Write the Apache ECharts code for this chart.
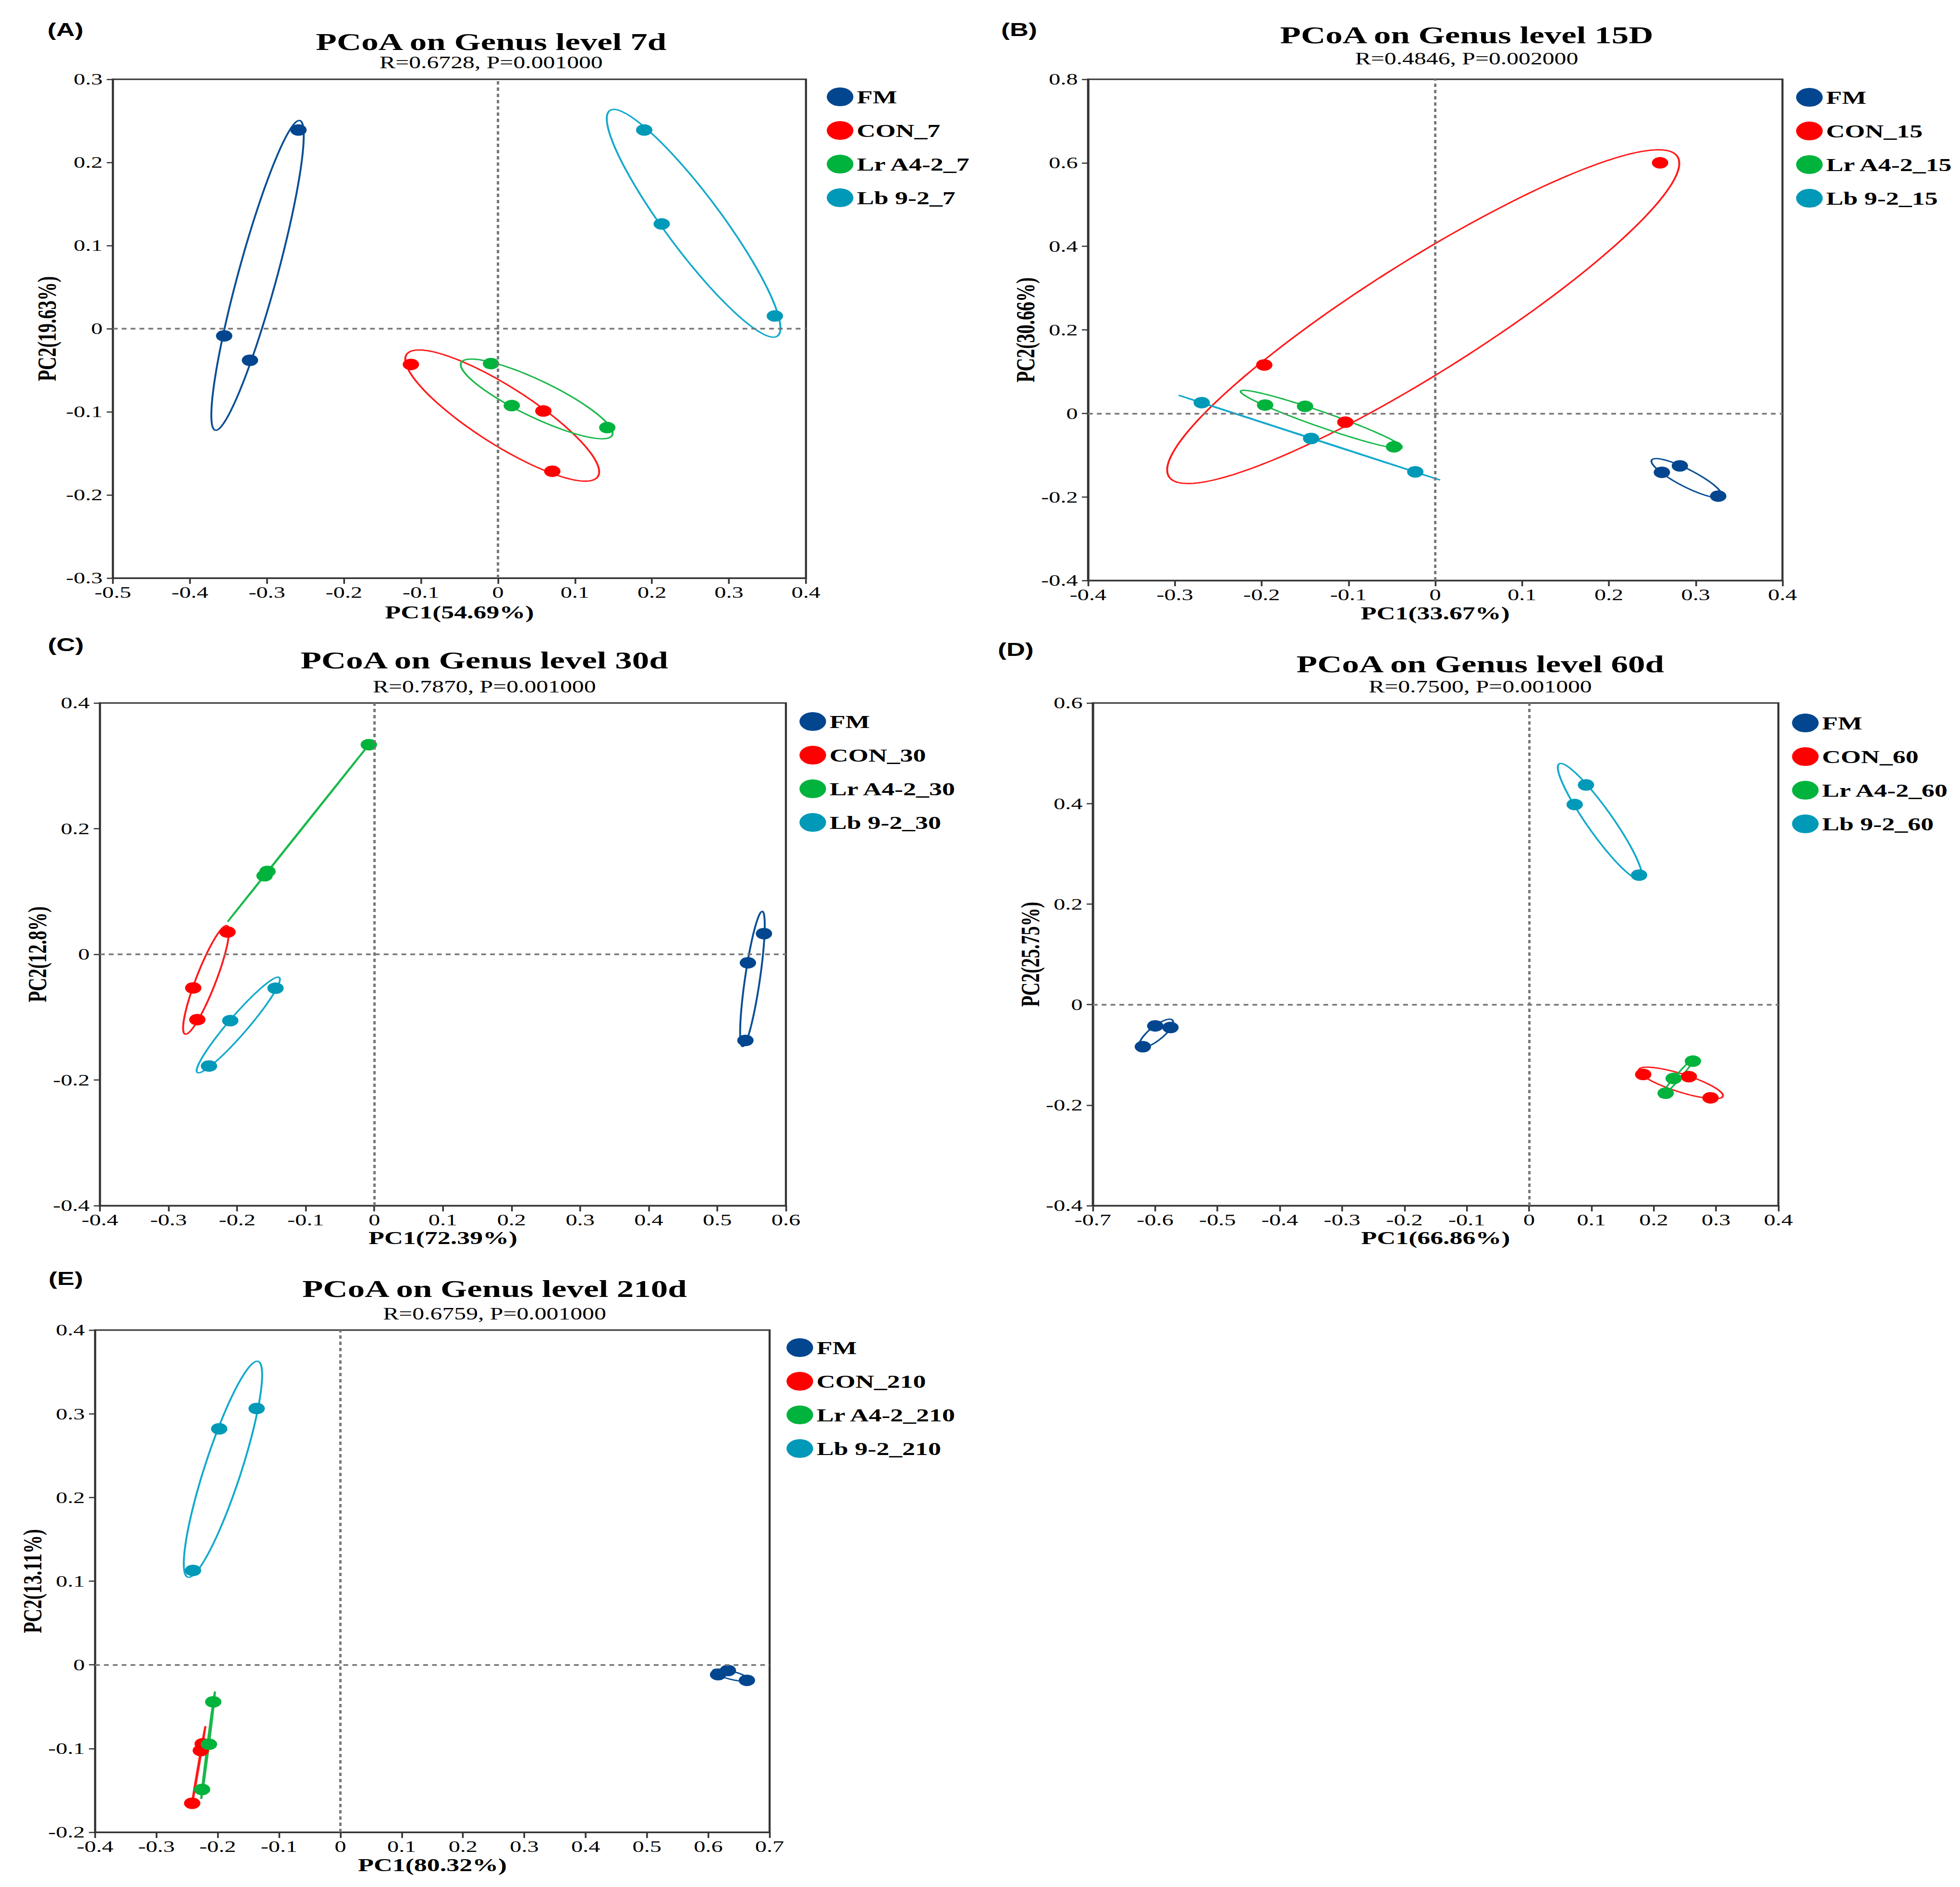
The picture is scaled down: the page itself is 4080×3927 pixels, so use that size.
<!DOCTYPE html>
<html>
<head>
<meta charset="utf-8">
<script src="https://cdn.jsdelivr.net/npm/echarts@6/dist/echarts.min.js"></script>
<style>
html,body{margin:0;padding:0;background:#fff;overflow:hidden;}
#wrap{position:absolute;left:0;top:0;transform-origin:0 0;}
</style>
</head>
<body>
<div id="wrap"></div>
<script>
// ---------------- data ----------------
const panelLabels = ['(A)', '(B)', '(C)', '(D)', '(E)'];
const panelTitles = ['PCoA on Genus level 7d', 'PCoA on Genus level 15D', 'PCoA on Genus level 30d', 'PCoA on Genus level 60d', 'PCoA on Genus level 210d'];
const panelStats = ['R=0.6728, P=0.001000', 'R=0.4846, P=0.002000', 'R=0.7870, P=0.001000', 'R=0.7500, P=0.001000', 'R=0.6759, P=0.001000'];
const xAxisNames = ['PC1(54.69%)', 'PC1(33.67%)', 'PC1(72.39%)', 'PC1(66.86%)', 'PC1(80.32%)'];
const yAxisNames = ['PC2(19.63%)', 'PC2(30.66%)', 'PC2(12.8%)', 'PC2(25.75%)', 'PC2(13.11%)'];
const groupNames = [
  ['FM', 'CON_7', 'Lr A4-2_7', 'Lb 9-2_7'],
  ['FM', 'CON_15', 'Lr A4-2_15', 'Lb 9-2_15'],
  ['FM', 'CON_30', 'Lr A4-2_30', 'Lb 9-2_30'],
  ['FM', 'CON_60', 'Lr A4-2_60', 'Lb 9-2_60'],
  ['FM', 'CON_210', 'Lr A4-2_210', 'Lb 9-2_210']
];
const xMin = [-0.5, -0.4, -0.4, -0.7, -0.4];
const xMax = [0.4, 0.4, 0.6, 0.4, 0.7];
const xStep = [0.1, 0.1, 0.1, 0.1, 0.1];
const yMin = [-0.3, -0.4, -0.4, -0.4, -0.2];
const yMax = [0.3, 0.8, 0.4, 0.6, 0.4];
const yStep = [0.1, 0.2, 0.2, 0.2, 0.1];

// panel A (7d)
const A_FM  = [[-0.259, 0.239], [-0.3555, -0.0086], [-0.322, -0.038]];
const A_CON = [[-0.113, -0.043], [0.059, -0.099], [0.0706, -0.1715]];
const A_LR  = [[-0.009, -0.042], [0.018, -0.0925], [0.142, -0.119]];
const A_LB  = [[0.19, 0.239], [0.2127, 0.126], [0.3596, 0.0153]];
// panel B (15d)
const B_FM  = [[0.2611, -0.141], [0.2818, -0.1256], [0.326, -0.198]];
const B_CON = [[0.259, 0.600], [-0.197, 0.116], [-0.1036, -0.021]];
const B_LR  = [[-0.196, 0.020], [-0.150, 0.017], [-0.0475, -0.080]];
const B_LB  = [[-0.269, 0.0258], [-0.143, -0.060], [-0.023, -0.140]];
// panel C (30d)
const C_FM  = [[0.568, 0.0329], [0.5446, -0.0135], [0.541, -0.137]];
const C_CON = [[-0.214, 0.0354], [-0.264, -0.0535], [-0.258, -0.104]];
const C_LR  = [[-0.008, 0.3336], [-0.1557, 0.132], [-0.160, 0.125]];
const C_LB  = [[-0.144, -0.054], [-0.210, -0.1056], [-0.241, -0.1778]];
// panel D (60d)
const D_FM  = [[-0.5998, -0.0424], [-0.5754, -0.0456], [-0.6197, -0.0838]];
const D_CON = [[0.1831, -0.139], [0.2564, -0.1434], [0.2911, -0.1855]];
const D_LR  = [[0.2629, -0.1125], [0.2320, -0.1470], [0.2192, -0.1763]];
const D_LB  = [[0.0913, 0.437], [0.0732, 0.398], [0.1765, 0.2576]];
// panel E (210d)
const E_FM  = [[0.616, -0.0117], [0.632, -0.0068], [0.663, -0.0185]];
const E_CON = [[-0.2417, -0.1654], [-0.2276, -0.1024], [-0.2245, -0.0944]];
const E_LR  = [[-0.2073, -0.0442], [-0.2143, -0.0949], [-0.2255, -0.1489]];
const E_LB  = [[-0.1365, 0.3063], [-0.1976, 0.282], [-0.2403, 0.1128]];

const panelData = [
  [A_FM, A_CON, A_LR, A_LB],
  [B_FM, B_CON, B_LR, B_LB],
  [C_FM, C_CON, C_LR, C_LB],
  [D_FM, D_CON, D_LR, D_LB],
  [E_FM, E_CON, E_LR, E_LB]
];

// confidence-ellipse radius (in sample standard deviations), matched to the reference
const ELLIPSE_RADIUS = 1.2247;

// ---------------- layout & style ----------------
const STRETCH = 1.42;            // the reference figure is horizontally stretched
const W = 4080 / STRETCH, H = 3927;
const groupColors = ['#02468f', '#ff0000', '#00b33c', '#0099b8'];
const lineColors  = ['#0a4f96', '#ff1a1a', '#19b84a', '#12a9cc'];
const SERIF = 'Liberation Serif, Times New Roman, serif';
const SANS_NARROW = '"Liberation Sans Narrow", "Arial Narrow", "Liberation Sans", Arial, sans-serif';

// plot boxes in (unstretched) pixels: [left, top, width, height]
const grids = [
  [165.5, 165, 1016, 1038],
  [1595, 165, 1018, 1043],
  [146.5, 1463, 1005.6, 1046],
  [1602, 1463, 1005, 1046],
  [139.4, 2768, 988.8, 1045]
];
const titlePos = [[720, 87, 130], [2150, 73, 122], [710, 1374, 1429], [2170, 1382, 1429], [725, 2682, 2734]];
const labelPos = [[96, 62], [1494, 62], [96.5, 1342], [1489, 1352], [96.5, 2661]];
const legendPos = [[1212, 182], [2633, 183], [1172, 1482], [2627, 1485], [1153, 2785]];
const xNameGap = [52, 49, 48, 48, 49];
const yNameGap = [78, 71, 70, 69, 73];

const wrap = document.getElementById('wrap');
wrap.style.width = W + 'px';
wrap.style.height = H + 'px';
wrap.style.transform = 'scaleX(' + STRETCH + ')';

function ellipsePoints(pts) {
  const n = pts.length;
  let mx = 0, my = 0;
  pts.forEach(p => { mx += p[0]; my += p[1]; });
  mx /= n; my /= n;
  let sxx = 0, syy = 0, sxy = 0;
  pts.forEach(p => {
    const dx = p[0] - mx, dy = p[1] - my;
    sxx += dx * dx; syy += dy * dy; sxy += dx * dy;
  });
  sxx /= (n - 1); syy /= (n - 1); sxy /= (n - 1);
  const a = Math.sqrt(sxx);
  const b = sxy / a;
  const c = Math.sqrt(Math.max(syy - b * b, 0));
  const out = [];
  for (let deg = 0; deg <= 360; deg += 2) {
    const t = deg * Math.PI / 180;
    out.push([mx + ELLIPSE_RADIUS * a * Math.cos(t),
              my + ELLIPSE_RADIUS * (b * Math.cos(t) + c * Math.sin(t))]);
  }
  return out;
}

const gridOpt = [], xAxes = [], yAxes = [], series = [], legends = [], graphics = [];

for (let i = 0; i < 5; i++) {
  const g = grids[i];
  gridOpt.push({left: g[0], top: g[1], width: g[2], height: g[3], show: true,
    borderColor: '#333', borderWidth: 3, backgroundColor: 'transparent', containLabel: false});
  xAxes.push({
    gridIndex: i, type: 'value', min: xMin[i], max: xMax[i], interval: xStep[i],
    name: xAxisNames[i], nameLocation: 'middle', nameGap: xNameGap[i],
    nameTextStyle: {fontFamily: SERIF, fontSize: 38, fontWeight: 'bold', color: '#000'},
    axisLine: {show: true, onZero: false, lineStyle: {color: '#333', width: 3}},
    axisTick: {show: true, inside: false, length: 12, lineStyle: {color: '#333', width: 2.5}},
    axisLabel: {fontFamily: SERIF, fontSize: 34, color: '#000', margin: 13},
    splitLine: {show: false}
  });
  yAxes.push({
    gridIndex: i, type: 'value', min: yMin[i], max: yMax[i], interval: yStep[i],
    name: yAxisNames[i], nameLocation: 'middle', nameGap: yNameGap[i], nameRotate: 90,
    nameTextStyle: {fontFamily: SERIF, fontSize: 38, fontWeight: 'bold', color: '#000'},
    axisLine: {show: true, onZero: false, lineStyle: {color: '#333', width: 3}},
    axisTick: {show: true, inside: false, length: 9, lineStyle: {color: '#333', width: 2.5}},
    axisLabel: {fontFamily: SERIF, fontSize: 34, color: '#000', margin: 15},
    splitLine: {show: false}
  });

  // ellipses
  for (let k = 0; k < 4; k++) {
    series.push({
      type: 'line', name: groupNames[i][k] + ' ellipse ' + i,
      xAxisIndex: i, yAxisIndex: i,
      data: ellipsePoints(panelData[i][k]),
      showSymbol: false, symbol: 'none', smooth: false, silent: true, z: 2,
      lineStyle: {color: lineColors[k], width: 2.8},
      animation: false
    });
  }
  // points
  for (let k = 0; k < 4; k++) {
    const s = {
      type: 'scatter', name: groupNames[i][k],
      xAxisIndex: i, yAxisIndex: i,
      data: panelData[i][k],
      symbol: 'circle', symbolSize: 24, z: 3,
      itemStyle: {color: groupColors[k], opacity: 1},
      animation: false, silent: true
    };
    if (k === 0) {
      s.markLine = {
        silent: true, symbol: ['none', 'none'], animation: false,
        label: {show: false},
        lineStyle: {color: '#777', width: 3.5, type: [7, 6]},
        data: [{xAxis: 0}, {yAxis: 0}]
      };
    }
    series.push(s);
  }

  legends.push({
    data: groupNames[i], orient: 'vertical',
    left: legendPos[i][0], top: legendPos[i][1], padding: 0,
    icon: 'circle', itemWidth: 39, itemHeight: 39, itemGap: 31,
    selectedMode: false,
    textStyle: {fontFamily: SERIF, fontSize: 38, fontWeight: 'bold', color: '#000'}
  });

  graphics.push({
    type: 'text', x: titlePos[i][0], y: titlePos[i][1],
    style: {text: panelTitles[i], fill: '#000', font: 'bold 50px ' + SERIF, textAlign: 'center', textVerticalAlign: 'middle'}
  });
  graphics.push({
    type: 'text', x: titlePos[i][0], y: titlePos[i][2],
    style: {text: panelStats[i], fill: '#000', font: '35px ' + SERIF, textAlign: 'center', textVerticalAlign: 'middle'}
  });
  graphics.push({
    type: 'text', x: labelPos[i][0], y: labelPos[i][1],
    style: {text: panelLabels[i], fill: '#000', font: 'bold 38px ' + SANS_NARROW, textAlign: 'center', textVerticalAlign: 'middle'}
  });
}

const chart = echarts.init(wrap, null, {renderer: 'svg', width: W, height: H});
chart.setOption({
  backgroundColor: '#fff',
  animation: false,
  grid: gridOpt,
  xAxis: xAxes,
  yAxis: yAxes,
  legend: legends,
  series: series,
  graphic: graphics
});
</script>
</body>
</html>
